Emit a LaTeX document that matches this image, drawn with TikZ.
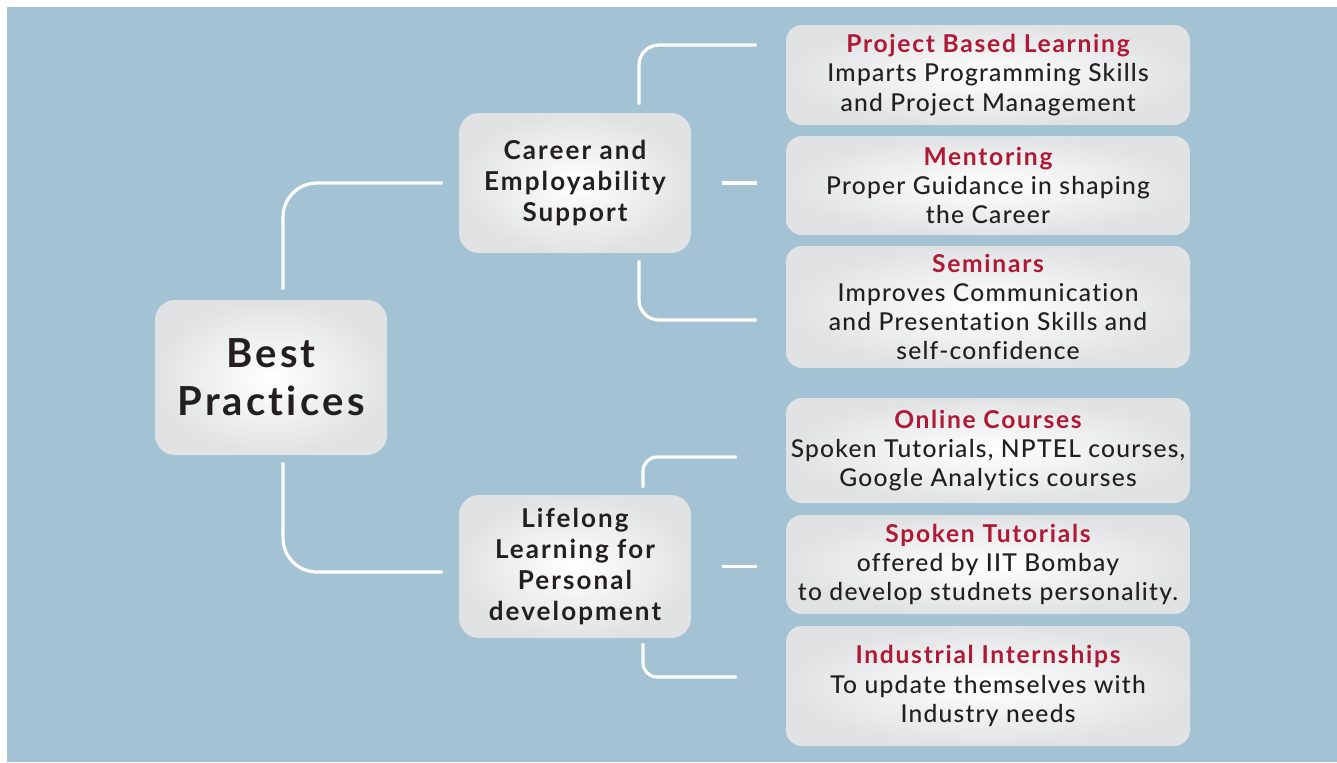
\documentclass[tikz,border=0pt]{standalone}
\usepackage{fontspec}
\setmainfont{Lato}
\newfontfamily\bodyfont{Lato Medium}[LetterSpace=5, Ligatures=NoCommon]
\newfontfamily\headfont{Lato}[LetterSpace=7, Ligatures=NoCommon]
\newfontfamily\topicfont{Lato}[LetterSpace=8, Ligatures=NoCommon]
\newfontfamily\bigfont{Lato}[LetterSpace=8, Ligatures=NoCommon]

\definecolor{bgblue}{HTML}{A3C2D3}
\definecolor{titlered}{HTML}{AE1A36}
\definecolor{inkdark}{HTML}{231F20}
\definecolor{boxgray}{HTML}{E1E2E4}

\begin{document}
\begin{tikzpicture}[x=0.5pt, y=-0.5pt]
\tikzset{
	card/.style={
		shape=rectangle,
		rounded corners=10pt,
		shading=radial,
		inner color=white,
		outer color=boxgray,
		text=inkdark,
		align=center,
		inner sep=0pt
	},
	topic/.style={card,
		minimum width=116pt,
		font=\topicfont\bfseries\fontsize{13}{15.6}\selectfont
	},
	item/.style={card,
		rounded corners=8pt,
		minimum width=202pt,
		font=\bodyfont\fontsize{12.3}{14.6}\selectfont
	},
	link/.style={draw=white, line width=1.6pt}
}
\newcommand{\hd}[1]{{\headfont\bfseries\color{titlered}#1}}

% background
\fill[white] (0,0) rectangle (1337,762);
\fill[bgblue] (7,7) rectangle (1337,762);

% centre and topics
\node[card, minimum width=116pt, minimum height=77.5pt, font=\bigfont\bfseries\fontsize{20}{24}\selectfont] (best) at (271,377.5) {Best\\Practices};
\node[topic, minimum height=70pt] (career) at (575,183) {Career and\\Employability\\Support};
\node[topic, minimum height=71.5pt] (lifelong) at (575,566.5) {Lifelong\\Learning for\\Personal\\development};

% practices
\node[item, minimum height=50pt] (pbl) at (988,75) {\hd{Project Based Learning}\\Imparts Programming Skills\\and Project Management};
\node[item, minimum height=49.5pt] (mentor) at (988,185.5) {\hd{Mentoring}\\Proper Guidance in shaping\\the Career};
\node[item, minimum height=61pt] (seminar) at (988,307) {\hd{Seminars}\\Improves Communication\\and Presentation Skills and\\self-confidence};
\node[item, minimum height=52.5pt] (online) at (988,450.5) {\hd{Online Courses}\\Spoken Tutorials, NPTEL courses,\\Google Analytics courses};
\node[item, minimum height=49.5pt] (spoken) at (988,564.5) {\hd{Spoken Tutorials}\\offered by IIT Bombay\\to develop studnets personality.};
\node[item, minimum height=60pt] (intern) at (988,686) {\hd{Industrial Internships}\\To update themselves with\\Industry needs};

% connectors
\draw[link, rounded corners=17pt] ([xshift=6pt, yshift=5pt]best.north) |- ([xshift=-8pt]career.west);
\draw[link, rounded corners=17pt] ([xshift=6pt, yshift=-3.5pt]best.south) |- ([xshift=-8pt, yshift=-2.75pt]lifelong.west);

\draw[link, rounded corners=10pt] ([xshift=32pt, yshift=4pt]career.north) |- ([xshift=-14.5pt, yshift=15pt]pbl.west);
\draw[link] ([xshift=15.5pt]career.east) -- ([xshift=-14.5pt]mentor.west |- career.east);
\draw[link, rounded corners=10pt] ([xshift=32pt, yshift=-3.5pt]career.south) |- ([xshift=-14.5pt, yshift=-6.5pt]seminar.west);

\draw[link, rounded corners=7pt] ([xshift=34pt, yshift=3.5pt]lifelong.north) |- ([xshift=-24.5pt, yshift=-3.25pt]online.west);
\draw[link] ([xshift=15.5pt]lifelong.east) -- ([xshift=-14.5pt]spoken.west |- lifelong.east);
\draw[link, rounded corners=7pt] ([xshift=34pt, yshift=-2.5pt]lifelong.south) |- ([xshift=-24.5pt, yshift=4.5pt]intern.west);
\end{tikzpicture}
\end{document}
